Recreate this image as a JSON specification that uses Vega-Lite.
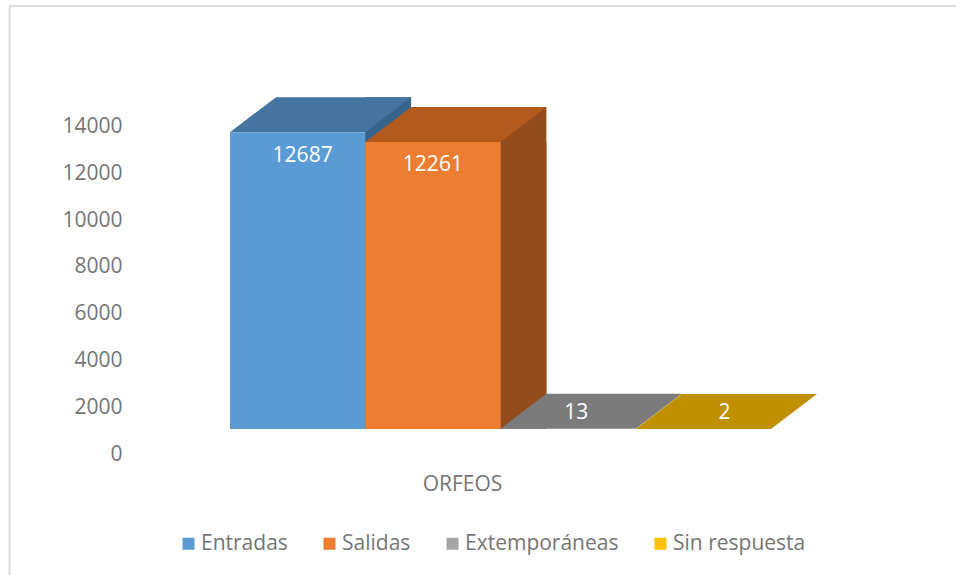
{
"$schema":"https://vega.github.io/schema/vega-lite/v6.json",
"width":947,"height":569,
"autosize":{"type":"none"},
"padding":{"left":9,"top":6,"right":0,"bottom":0},
"background":"white",
"view":{"stroke":null},
"data":{"values":[
{"serie":"Entradas","valor":12687},
{"serie":"Salidas","valor":12261},
{"serie":"Extemporáneas","valor":13},
{"serie":"Sin respuesta","valor":2}]},
"encoding":{
"x":{"field":"serie","type":"nominal","sort":null,"title":"ORFEOS",
"scale":{"type":"band","domain":["Entradas","Salidas","Extemporáneas","Sin respuesta"],"paddingInner":0,"paddingOuter":0,"range":[221,762]},
"axis":{"orient":"top","labels":false,"ticks":false,"grid":false,"domain":false,"titleX":453,"titleY":478,"titleFont":"Open Sans","titleFontSize":21,"titleFontWeight":"normal","titleColor":"#757575","titleAnchor":"middle","titleBaseline":"middle"}},
"y":{"field":"valor","type":"quantitative","title":null,
"scale":{"domain":[-6239,18077],"nice":false,"zero":false},
"axis":{"values":[0,2000,4000,6000,8000,10000,12000,14000],"format":"d","grid":false,"ticks":false,"domain":true,"domainColor":"#dcdcdc","domainWidth":2,"labelOffset":25,"labelPadding":-113,"labelFont":"Open Sans","labelFontSize":21,"labelColor":"#757575"}}
},
"layer":[
{"mark":{"type":"rule","color":"#dcdcdc","strokeWidth":2},
"encoding":{"x":null,"y":{"datum":18077,"type":"quantitative"}}},
{"transform":[{"filter":"datum.valor > 100"}],
"mark":{"type":"bar","width":46,"xOffset":90.5,"yOffset":-35},
"encoding":{"y2":{"datum":0},"fill":{"field":"serie","type":"nominal","legend":null,"scale":{"domain":["Entradas","Salidas"],"range":["#37648d","#954c1c"]}}}},
{"transform":[{"filter":"datum.valor > 100"}],
"mark":{"type":"bar","width":46,"xOffset":90.5},
"encoding":{"y2":{"datum":0},"fill":{"field":"serie","type":"nominal","legend":null,"scale":{"domain":["Entradas","Salidas"],"range":["#37648d","#954c1c"]}}}},
{"mark":{"type":"point","filled":true,"opacity":1,"size":4,"strokeWidth":0,"shape":"M-67.6,0L67.6,0L113.6,-35L-21.6,-35Z"},
"encoding":{"fill":{"field":"serie","type":"nominal","legend":null,"scale":{"domain":["Entradas","Salidas","Extemporáneas","Sin respuesta"],"range":["#44749f","#b35a1f","#7b7b7b","#bf9000"]}}}},
{"mark":{"type":"bar"},
"encoding":{"y2":{"datum":0},"fill":{"field":"serie","type":"nominal","sort":null,
"scale":{"domain":["Entradas","Salidas","Extemporáneas","Sin respuesta"],"range":["#5b9bd5","#ed7d31","#a5a5a5","#ffc000"]},
"legend":{"title":null,"orient":"none","legendX":169,"legendY":527,"direction":"horizontal","columns":4,"columnPadding":31,"symbolType":"square","symbolSize":144,"symbolStrokeWidth":0,"labelFont":"Open Sans","labelFontSize":21,"labelColor":"#757575","labelOffset":2,"labelLimit":300}}}},
{"transform":[{"filter":"datum.serie == 'Entradas'"}],"mark":{"type":"text","font":"Open Sans","fontSize":21,"fill":"white","xOffset":5,"yOffset":24},"encoding":{"text":{"field":"valor","type":"quantitative","format":"d"}}},
{"transform":[{"filter":"datum.serie == 'Salidas'"}],"mark":{"type":"text","font":"Open Sans","fontSize":21,"fill":"white","xOffset":0,"yOffset":23},"encoding":{"text":{"field":"valor","type":"quantitative","format":"d"}}},
{"transform":[{"filter":"datum.serie == 'Extemporáneas'"}],"mark":{"type":"text","font":"Open Sans","fontSize":21,"fill":"white","xOffset":8,"yOffset":-16},"encoding":{"text":{"field":"valor","type":"quantitative","format":"d"}}},
{"transform":[{"filter":"datum.serie == 'Sin respuesta'"}],"mark":{"type":"text","font":"Open Sans","fontSize":21,"fill":"white","xOffset":21,"yOffset":-16},"encoding":{"text":{"field":"valor","type":"quantitative","format":"d"}}}
],
"resolve":{"scale":{"fill":"independent"}}
}
